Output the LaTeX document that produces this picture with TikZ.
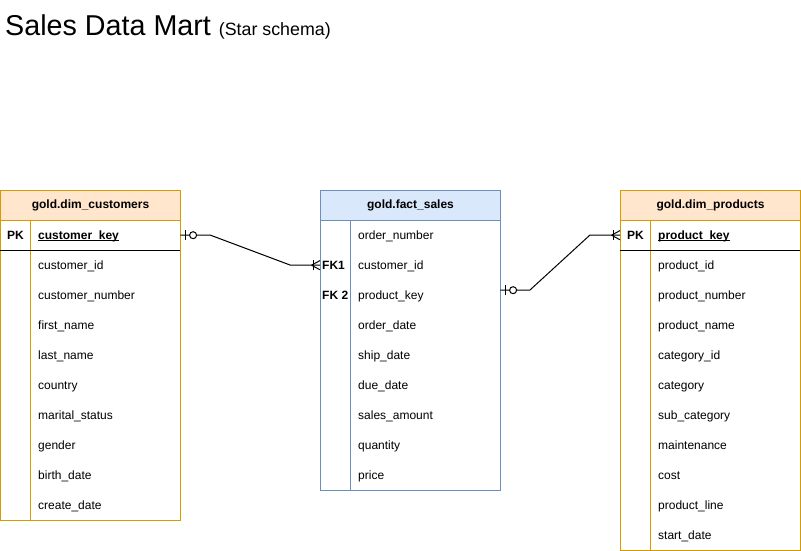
\documentclass[tikz,border=0pt]{standalone}
\usepackage{fontspec}
\setmainfont{Liberation Sans}
\usetikzlibrary{calc}
\definecolor{ostroke}{HTML}{D79B00}
\definecolor{ofill}{HTML}{FFE6CC}
\definecolor{bstroke}{HTML}{6C8EBF}
\definecolor{bfill}{HTML}{DAE8FC}
\newcommand\ulkey[1]{\setbox0\hbox{\bfseries #1}\rlap{\rule[-1.3pt]{\wd0}{0.9pt}}\box0}
\begin{document}
\begin{tikzpicture}[x=1pt,y=-1pt,
  titletxt/.style={anchor=base west, inner sep=0pt, font=\fontsize{28.7}{32}\selectfont},
  tblbody/.style={draw, line width=1pt, fill=white, minimum width=180pt, anchor=north west, inner sep=0pt},
  tblhead/.style={draw, line width=1pt, minimum width=180pt, minimum height=30pt, anchor=north west, inner sep=0pt, font=\fontsize{12}{14}\selectfont\bfseries},
  rowbox/.style={minimum width=180pt, minimum height=30pt, inner sep=0pt, anchor=north west},
  celltxt/.style={anchor=base west, inner sep=0pt, font=\fontsize{12}{14}\selectfont},
  keytxt/.style={anchor=base west, inner sep=0pt, font=\fontsize{12}{14}\selectfont\bfseries},
  rel/.style={draw=black, line width=1pt},
  zeroone/.pic={\draw[line width=1pt] (5,-5) -- (5,5); \draw[line width=1pt, fill=white] (12.7,0) circle (3.5pt);},
  onemany/.pic={\draw[line width=1pt] (-8.5,0) -- (0,-4.6) (-8.5,0) -- (0,4.6); \draw[line width=1pt] (-6.8,-5) -- (-6.8,5);}
]
\useasboundingbox (0,0) rectangle (801,551);

% title
\node[titletxt] (title) at (5,36) {Sales Data Mart {\fontsize{17.8}{20}\selectfont(Star schema)}};

% ---------- customers ----------
\node[tblbody, draw=ostroke, minimum height=330pt] (cust) at (0,190) {};
\node[tblhead, draw=ostroke, fill=ofill] (custH) at (0,190) {gold.dim\_customers};
\node[rowbox] (custPK) at (0,220) {};
\draw[ostroke, line width=1pt] (30,220) -- (30,520);
\draw[line width=1pt] (custPK.south west) -- (custPK.south east);
\node[keytxt] (custPKl) at (7,239.3) {PK};
\node[celltxt] (custPKt) at (38,239.3) {\ulkey{customer\_key}};
\foreach \t [count=\i] in {customer\_id,customer\_number,first\_name,last\_name,country,marital\_status,gender,birth\_date,create\_date}
  \node[celltxt] (cust\i) at (38,{239.3+30*\i}) {\t};

% ---------- fact ----------
\node[tblbody, draw=bstroke, minimum height=300pt] (fact) at (320,190) {};
\node[tblhead, draw=bstroke, fill=bfill] (factH) at (320,190) {gold.fact\_sales};
\draw[bstroke, line width=1pt] (350,220) -- (350,490);
\foreach \t [count=\i] in {order\_number,customer\_id,product\_key,order\_date,ship\_date,due\_date,sales\_amount,quantity,price}
  {\node[rowbox] (factR\i) at (320,{190+30*\i}) {};
   \node[celltxt] (fact\i) at (358,{209.3+30*\i}) {\t};}
\node[keytxt] (fk1) at (322,269.3) {FK1};
\node[keytxt] (fk2) at (322,299.3) {FK 2};

% ---------- products ----------
\node[tblbody, draw=ostroke, minimum height=360pt] (prod) at (620,190) {};
\node[tblhead, draw=ostroke, fill=ofill] (prodH) at (620,190) {gold.dim\_products};
\node[rowbox] (prodPK) at (620,220) {};
\draw[ostroke, line width=1pt] (650,220) -- (650,550);
\draw[line width=1pt] (prodPK.south west) -- (prodPK.south east);
\node[keytxt] (prodPKl) at (627,239.3) {PK};
\node[celltxt] (prodPKt) at (658,239.3) {\ulkey{product\_key}};
\foreach \t [count=\i] in {product\_id,product\_number,product\_name,category\_id,category,sub\_category,maintenance,cost,product\_line,start\_date}
  \node[celltxt] (prod\i) at (658,{239.3+30*\i}) {\t};

% ---------- relations ----------
\coordinate (r1a) at (210,235);
\coordinate (r1b) at (290,265);
\draw[rel] (custPK.east) -- (r1a) -- (r1b) -- (factR2.west);
\pic at (custPK.east) {zeroone};
\pic at (factR2.west) {onemany};

\coordinate (f2e) at ([yshift=5pt]factR3.east);
\coordinate (r2a) at (530,290);
\coordinate (r2b) at (590,235);
\draw[rel] (f2e) -- (r2a) -- (r2b) -- (prodPK.west);
\pic at (f2e) {zeroone};
\pic at (prodPK.west) {onemany};
\end{tikzpicture}
\end{document}
